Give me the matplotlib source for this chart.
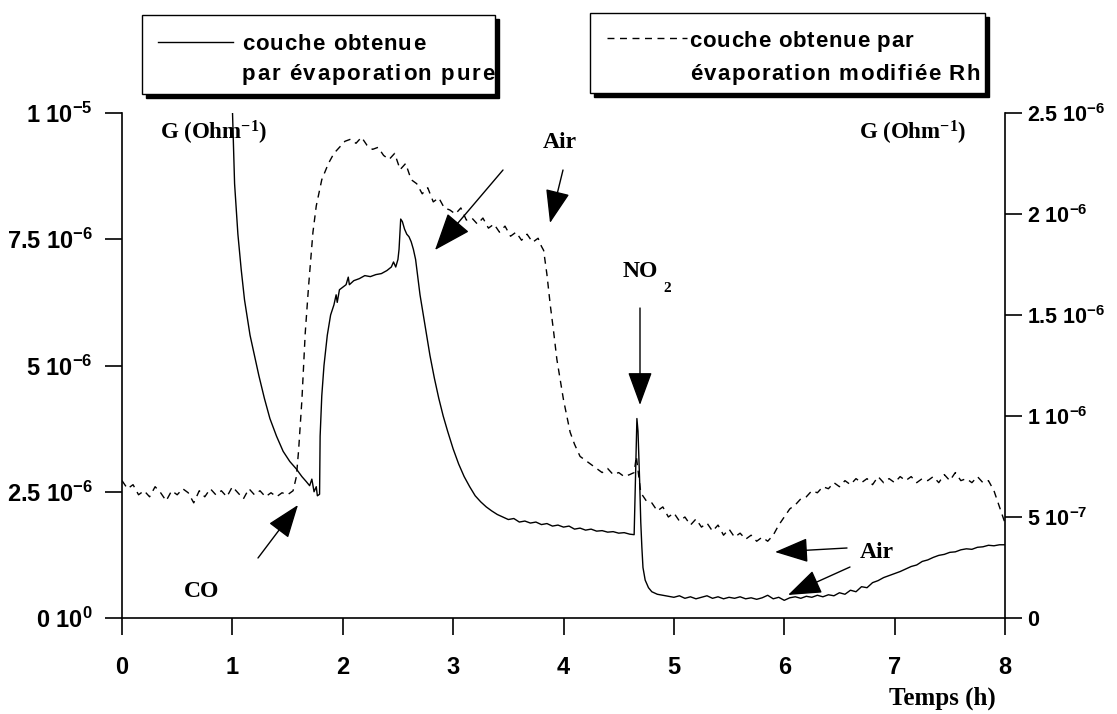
import matplotlib
matplotlib.use("Agg")
import matplotlib.pyplot as plt
import matplotlib.patches as patches
from matplotlib.font_manager import FontProperties, findfont, get_font

plt.rcParams['mathtext.default'] = 'regular'

# --- DATA ---
# solid curve: layer from pure evaporation (left axis, 1e-6 Ohm^-1)
t_pure = [0.98, 1.00, 1.02, 1.05, 1.08, 1.11, 1.16, 1.20, 1.24, 1.29, 1.34, 1.40, 1.46,
          1.52, 1.58, 1.63, 1.67, 1.70, 1.72, 1.74, 1.76, 1.77, 1.79, 1.795, 1.81, 1.83,
          1.86, 1.89, 1.92, 1.94, 1.95, 1.97, 2.00, 2.03, 2.05, 2.06, 2.10, 2.15, 2.20,
          2.25, 2.30, 2.35, 2.40, 2.44, 2.46, 2.48, 2.50, 2.51, 2.525, 2.54, 2.56, 2.58,
          2.60, 2.62, 2.64, 2.66, 2.68, 2.70, 2.73, 2.76, 2.79, 2.83, 2.87, 2.91, 2.95,
          3.00, 3.05, 3.10, 3.15, 3.20, 3.25, 3.30, 3.35, 3.40, 3.45, 3.50, 3.55, 3.60,
          3.65, 3.70, 3.75, 3.80, 3.85, 3.90, 3.95, 4.00, 4.05, 4.10, 4.15, 4.20, 4.25,
          4.30, 4.35, 4.40, 4.45, 4.50, 4.55, 4.60, 4.64, 4.655, 4.665, 4.675, 4.69, 4.70,
          4.71, 4.72, 4.74, 4.77, 4.80, 4.85, 4.90, 4.95, 5.00, 5.05, 5.10, 5.15, 5.20,
          5.25, 5.30, 5.35, 5.40, 5.45, 5.50, 5.55, 5.60, 5.65, 5.70, 5.75, 5.80, 5.85,
          5.90, 5.95, 6.00, 6.05, 6.10, 6.15, 6.20, 6.25, 6.30, 6.35, 6.40, 6.45, 6.50,
          6.55, 6.60, 6.65, 6.70, 6.75, 6.80, 6.85, 6.90, 6.95, 7.00, 7.05, 7.10, 7.15,
          7.20, 7.25, 7.30, 7.35, 7.40, 7.45, 7.50, 7.55, 7.60, 7.65, 7.70, 7.75, 7.80,
          7.85, 7.90, 7.95, 8.00]
g_pure = [10.6, 10.1, 8.6, 7.6, 6.9, 6.3, 5.6, 5.2, 4.8, 4.35, 3.95, 3.6, 3.3,
          3.1, 2.95, 2.8, 2.7, 2.62, 2.75, 2.5, 2.6, 2.42, 2.45, 3.6, 4.4, 5.0,
          5.6, 6.0, 6.2, 6.4, 6.25, 6.5, 6.55, 6.6, 6.75, 6.6, 6.68, 6.72, 6.78,
          6.76, 6.8, 6.82, 6.88, 6.95, 7.05, 6.95, 7.1, 7.3, 7.9, 7.85, 7.7, 7.6,
          7.55, 7.45, 7.3, 7.1, 6.75, 6.4, 6.0, 5.6, 5.2, 4.75, 4.35, 4.0, 3.7,
          3.35, 3.05, 2.8, 2.6, 2.42, 2.3, 2.2, 2.12, 2.05, 2.0, 1.95, 1.97, 1.9,
          1.92, 1.88, 1.9, 1.85, 1.87, 1.82, 1.84, 1.8, 1.82, 1.76, 1.78, 1.74, 1.76,
          1.72, 1.73, 1.7, 1.71, 1.68, 1.69, 1.66, 1.65, 3.0, 3.95, 3.7, 2.7, 1.9,
          1.4, 1.0, 0.75, 0.6, 0.52, 0.47, 0.45, 0.43, 0.41, 0.44, 0.39, 0.42, 0.38,
          0.41, 0.44, 0.39, 0.42, 0.38, 0.41, 0.39, 0.42, 0.38, 0.40, 0.37, 0.40, 0.45,
          0.38, 0.41, 0.35, 0.40, 0.42, 0.39, 0.43, 0.41, 0.45, 0.42, 0.46, 0.44, 0.50,
          0.47, 0.55, 0.52, 0.62, 0.60, 0.70, 0.74, 0.80, 0.84, 0.88, 0.92, 0.97, 1.02,
          1.05, 1.12, 1.15, 1.20, 1.24, 1.26, 1.30, 1.31, 1.35, 1.37, 1.36, 1.40, 1.41,
          1.44, 1.43, 1.45, 1.45]

# dashed curve: layer from Rh-modified evaporation (right axis, 1e-6 Ohm^-1)
t_rh = [0.00, 0.05, 0.10, 0.15, 0.20, 0.25, 0.30, 0.35, 0.40, 0.45, 0.50, 0.55, 0.60,
        0.65, 0.70, 0.75, 0.80, 0.85, 0.90, 0.95, 1.00, 1.05, 1.10, 1.15, 1.20, 1.25,
        1.30, 1.35, 1.40, 1.45, 1.50, 1.55, 1.58, 1.60, 1.63, 1.66, 1.69, 1.73, 1.76,
        1.81, 1.87, 1.92, 1.97, 2.02, 2.07, 2.12, 2.17, 2.22, 2.27, 2.32, 2.37, 2.42,
        2.47, 2.52, 2.57, 2.62, 2.67, 2.72, 2.77, 2.82, 2.87, 2.92, 2.97, 3.02, 3.07,
        3.12, 3.17, 3.22, 3.27, 3.32, 3.37, 3.42, 3.47, 3.52, 3.57, 3.62, 3.67, 3.72,
        3.77, 3.80, 3.82, 3.85, 3.88, 3.91, 3.94, 3.97, 4.00, 4.03, 4.06, 4.10, 4.15,
        4.20, 4.25, 4.30, 4.35, 4.40, 4.45, 4.50, 4.55, 4.60, 4.64, 4.66, 4.70, 4.75,
        4.80, 4.85, 4.90, 4.95, 5.00, 5.05, 5.10, 5.15, 5.20, 5.25, 5.30, 5.35, 5.40,
        5.45, 5.50, 5.55, 5.60, 5.65, 5.70, 5.75, 5.80, 5.85, 5.90, 5.95, 6.00, 6.05,
        6.10, 6.15, 6.20, 6.25, 6.30, 6.35, 6.40, 6.45, 6.50, 6.55, 6.60, 6.65, 6.70,
        6.75, 6.80, 6.85, 6.90, 6.95, 7.00, 7.05, 7.10, 7.15, 7.20, 7.25, 7.30, 7.35,
        7.40, 7.45, 7.50, 7.55, 7.60, 7.65, 7.70, 7.75, 7.80, 7.85, 7.90, 7.95, 8.00]
g_rh = [0.68, 0.64, 0.66, 0.61, 0.63, 0.60, 0.65, 0.62, 0.58, 0.63, 0.61, 0.64, 0.62,
        0.57, 0.63, 0.60, 0.64, 0.61, 0.63, 0.60, 0.65, 0.62, 0.59, 0.64, 0.61, 0.63,
        0.60, 0.62, 0.60, 0.62, 0.61, 0.63, 0.70, 0.83, 1.08, 1.41, 1.64, 1.91, 2.04,
        2.17, 2.25, 2.30, 2.33, 2.36, 2.37, 2.35, 2.38, 2.34, 2.32, 2.33, 2.29, 2.27,
        2.30, 2.22, 2.25, 2.17, 2.15, 2.10, 2.13, 2.06, 2.08, 2.03, 2.02, 2.00, 2.03,
        1.97, 1.98, 1.95, 1.98, 1.93, 1.95, 1.91, 1.94, 1.89, 1.91, 1.87, 1.90, 1.86,
        1.88, 1.84, 1.82, 1.70, 1.55, 1.42, 1.28, 1.18, 1.08, 1.00, 0.92, 0.86, 0.80,
        0.78, 0.76, 0.74, 0.72, 0.74, 0.71, 0.72, 0.70, 0.71, 0.72, 0.80, 0.62, 0.58,
        0.57, 0.53, 0.55, 0.50, 0.52, 0.48, 0.50, 0.46, 0.49, 0.45, 0.47, 0.43, 0.46,
        0.41, 0.44, 0.40, 0.42, 0.39, 0.41, 0.38, 0.40, 0.38, 0.41, 0.46, 0.50, 0.54,
        0.56, 0.59, 0.60, 0.63, 0.62, 0.65, 0.64, 0.67, 0.65, 0.68, 0.66, 0.69, 0.67,
        0.69, 0.66, 0.70, 0.67, 0.69, 0.67, 0.70, 0.68, 0.70, 0.67, 0.69, 0.68, 0.70,
        0.67, 0.71, 0.68, 0.72, 0.68, 0.69, 0.67, 0.70, 0.67, 0.68, 0.63, 0.55, 0.47]

x_ticks = [0, 1, 2, 3, 4, 5, 6, 7, 8]
left_ticks = [0, 2.5e-6, 5e-6, 7.5e-6, 1e-5]
left_labels = [r'0 10$^{0}$', r'2.5 10$^{-6}$', r'5 10$^{-6}$', r'7.5 10$^{-6}$', r'1 10$^{-5}$']
right_ticks = [0, 5e-7, 1e-6, 1.5e-6, 2e-6, 2.5e-6]
right_labels = ['0', r'5 10$^{-7}$', r'1 10$^{-6}$', r'1.5 10$^{-6}$', r'2 10$^{-6}$', r'2.5 10$^{-6}$']

SANS = 'Liberation Sans'
SERIF = 'Liberation Serif'

fig = plt.figure(figsize=(11.17, 7.14), dpi=100, facecolor='white')
ax = fig.add_axes([122 / 1117, 96 / 714, 883 / 1117, 505 / 714])
ax2 = ax.twinx()

ax.plot(t_pure, [v * 1e-6 for v in g_pure], color='black', lw=1.0)
ax2.plot(t_rh, [v * 1e-6 for v in g_rh], color='black', lw=1.0, linestyle=(0, (5, 4)))

ax.set_xlim(0, 8)
ax.set_ylim(0, 1e-5)
ax2.set_ylim(0, 2.5e-6)

for a in (ax, ax2):
    a.spines['top'].set_visible(False)
    for s in a.spines.values():
        s.set_linewidth(1.2)
ax.spines['right'].set_visible(False)
ax2.spines['left'].set_visible(False)
ax2.spines['bottom'].set_visible(False)

tick_font = dict(fontfamily=SANS, fontweight='bold', fontsize=17)
ax.set_xticks(x_ticks)
ax.set_xticklabels([str(v) for v in x_ticks], **tick_font)
ax.set_yticks(left_ticks)
ax.set_yticklabels(left_labels, **tick_font)
ax2.set_yticks(right_ticks)
ax2.set_yticklabels(right_labels, fontfamily=SANS, fontweight='bold', fontsize=15.5)
ax.tick_params(axis='x', direction='out', length=12, width=1.2, pad=15)
ax.tick_params(axis='y', direction='out', length=12, width=1.2, pad=9)
ax2.tick_params(axis='y', direction='out', length=12, width=1.2, pad=4)

# --- OVERLAY (pixel coordinates) for legend boxes and annotations ---
ov = fig.add_axes([0, 0, 1, 1], zorder=10)
ov.set_xlim(0, 1117)
ov.set_ylim(714, 0)
ov.axis('off')
ov.patch.set_visible(False)


def spaced_text(x0, x1, y, s, fp):
    # spread characters so the string spans x0..x1 (letter-spaced like the scan)
    font = get_font(findfont(fp))
    font.set_size(fp.get_size_in_points(), 100)
    advs = [font.load_char(ord(ch)).linearHoriAdvance / 65536 for ch in s]
    gap = ((x1 - x0) - sum(advs)) / (len(s) - 1)
    x = x0
    for ch, adv in zip(s, advs):
        ov.text(x, y, ch, fontproperties=fp, ha='left', va='baseline')
        x += adv + gap


def legend_box(x0, y0, x1, y1):
    ov.add_patch(patches.Rectangle((x0 + 4, y0 + 4), x1 - x0, y1 - y0, fc='black', ec='black'))
    ov.add_patch(patches.Rectangle((x0, y0), x1 - x0, y1 - y0, fc='white', ec='black', lw=1.0))


leg_fp = FontProperties(family=SANS, weight='bold', size=16)
legend_box(142, 15, 495, 94)
ov.plot([158, 233], [42, 42], color='black', lw=1.0)
spaced_text(242, 425, 50, 'couche obtenue', leg_fp)
spaced_text(242, 494, 80, 'par évaporation pure', leg_fp)

legend_box(590, 13, 985, 93)
ov.plot([607, 687], [38, 38], color='black', lw=1.0, linestyle=(0, (5, 4)))
spaced_text(689, 913, 47, 'couche obtenue par', leg_fp)
spaced_text(690, 980, 80, 'évaporation modifiée Rh', leg_fp)

serif = dict(fontfamily=SERIF, fontweight='bold')
ov.text(160, 140, r'G (Ohm$^{-1}$)', fontsize=16.5, ha='left', va='baseline', **serif)
ov.text(966, 140, r'G (Ohm$^{-1}$)', fontsize=16.5, ha='right', va='baseline', **serif)
ov.text(184, 597, 'CO', fontsize=17, ha='left', va='baseline', **serif)
ov.text(543, 148, 'Air', fontsize=17, ha='left', va='baseline', **serif)
ov.text(860, 558, 'Air', fontsize=17, ha='left', va='baseline', **serif)
ov.text(623, 277, 'NO', fontsize=17, ha='left', va='baseline', **serif)
ov.text(663, 292, '2', fontsize=11, ha='left', va='baseline', **serif)
ov.text(942, 705, 'Temps (h)', fontsize=18, ha='center', va='baseline', **serif)


def arrow(tail, tip, hl=1.5, hw=0.55):
    ov.annotate('', xy=tip, xytext=tail,
                arrowprops=dict(arrowstyle=f'-|>,head_length={hl},head_width={hw}',
                                mutation_scale=14, lw=1.0, color='black',
                                shrinkA=0, shrinkB=0))


arrow((258, 558), (298, 505))
arrow((503, 170), (435, 250), hl=1.7, hw=0.65)
arrow((563, 170), (550, 223))
arrow((640, 308), (640, 405))
arrow((847, 548), (775, 552))
arrow((850, 567), (788, 595))

fig.savefig('out.png', dpi=100, facecolor='white')
